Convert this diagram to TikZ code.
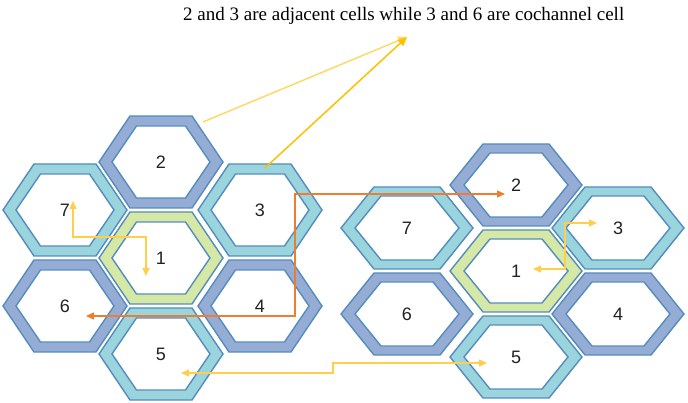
\documentclass[tikz,border=0pt]{standalone}
\usepackage{fontspec}
\setmainfont{Liberation Serif}
\newfontfamily\cellfont{Liberation Sans}
\usetikzlibrary{arrows.meta}

\definecolor{bluering}{HTML}{95ADD4}
\definecolor{cyanring}{HTML}{9AD4DC}
\definecolor{greenring}{HTML}{D5E8A6}
\definecolor{ringedge}{HTML}{548CC0}
\definecolor{labelgrey}{HTML}{222222}
\definecolor{goldlight}{HTML}{FFD966}
\definecolor{gold}{HTML}{FFC000}
\definecolor{linkyellow}{HTML}{FFCF4A}
\definecolor{linkorange}{HTML}{ED7D31}

\tikzset{
  ringstroke/.style={draw=ringedge, line width=1.4pt, line join=miter},
  celllabel/.style={font=\cellfont\fontsize{18}{20}\selectfont, text=labelgrey, inner sep=0pt},
  linkline/.style={line width=1.5pt, arrows={Triangle[length=8pt,width=7pt]-Triangle[length=8pt,width=7pt]}},
  noteline/.style={line width=1.5pt, -{Triangle[length=9pt,width=8pt]}},
}

% one cell: name, x, y, ring colour, label, outer half-width, outer half-height,
% inner half-width, inner half-height
\newcommand\hexcell[9]{%
  \begin{scope}[shift={(#2,#3)}]
    \filldraw[ringstroke, fill=#4] (-#6,0) -- (-#6/2,-#7) -- (#6/2,-#7) -- (#6,0) -- (#6/2,#7) -- (-#6/2,#7) -- cycle;
    \filldraw[ringstroke, fill=white] (-#8,0) -- (-#8/2,-#9) -- (#8/2,-#9) -- (#8,0) -- (#8/2,#9) -- (-#8/2,#9) -- cycle;
  \end{scope}
  \node[celllabel] (#1) at (#2,#3) {#5};
}
\newcommand\leftcell[5]{\hexcell{#1}{#2}{#3}{#4}{#5}{62}{46}{49}{36}}
\newcommand\rightcell[5]{\hexcell{#1}{#2}{#3}{#4}{#5}{66}{41}{52}{32}}

\begin{document}
\begin{tikzpicture}[x=1pt, y=-1pt]
\useasboundingbox (0,0) rectangle (688,403);

% left cluster
\leftcell{L1}{161}{258}{greenring}{1}
\leftcell{L2}{161}{162}{bluering}{2}
\leftcell{L3}{260}{210}{cyanring}{3}
\leftcell{L4}{260}{306}{bluering}{4}
\leftcell{L5}{161}{354}{cyanring}{5}
\leftcell{L6}{65}{306}{bluering}{6}
\leftcell{L7}{65}{210}{cyanring}{7}

% right cluster
\rightcell{R1}{516}{271}{greenring}{1}
\rightcell{R2}{516}{185}{bluering}{2}
\rightcell{R3}{618}{228}{cyanring}{3}
\rightcell{R4}{618}{314}{bluering}{4}
\rightcell{R5}{516}{357}{cyanring}{5}
\rightcell{R6}{407}{314}{bluering}{6}
\rightcell{R7}{407}{228}{cyanring}{7}

% caption
\node[anchor=base west, inner sep=0pt, font=\fontsize{19}{21}\selectfont] (note) at (183,21)
  {2 and 3 are adjacent cells while 3 and 6 are cochannel cell};

% connector end points
\coordinate (tip) at (407,37);
\coordinate (s2) at (203,122);
\coordinate (s3) at (265,168);
\coordinate (l7tip) at (73,201);
\coordinate (l1tip) at (146,276);
\coordinate (ljoin) at (0,237);
\coordinate (l6tip) at (86,316);
\coordinate (ocorner) at (295,194);
\coordinate (r2tip) at (505,194);
\coordinate (l5tip) at (181,373);
\coordinate (ystep) at (333,363);
\coordinate (r5tip) at (487,363);
\coordinate (r1tip) at (533,269);
\coordinate (rcorner) at (565,223);
\coordinate (r3tip) at (597,223);

% pointers to the caption
\draw[noteline, goldlight] (s2) -- (tip);
\draw[noteline, gold] (s3) -- (tip);

% cell-to-cell links
\draw[linkline, linkyellow] (l7tip) -- (l7tip |- ljoin) -- (l1tip |- ljoin) -- (l1tip);
\draw[linkline, linkorange] (l6tip) -| (ocorner) -- (r2tip);
\draw[linkline, linkyellow] (l5tip) -| (ystep) -- (r5tip);
\draw[linkline, linkyellow] (r1tip) -| (rcorner) -- (r3tip);
\end{tikzpicture}
\end{document}
